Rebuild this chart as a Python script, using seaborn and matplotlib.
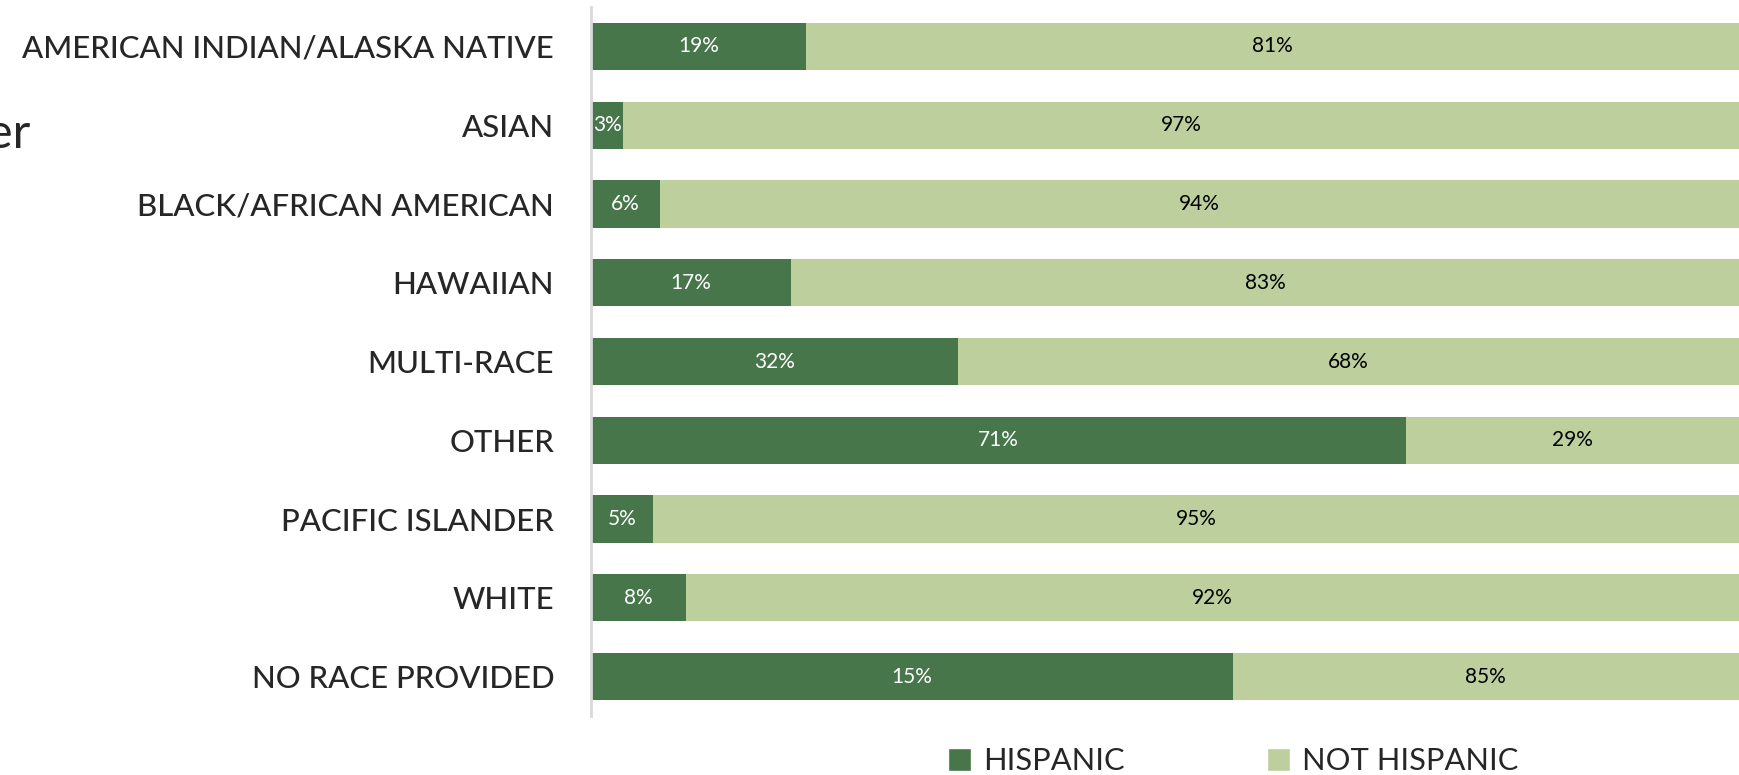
import pandas as pd
import matplotlib.pyplot as plt
import seaborn as sns
from matplotlib.patches import Patch

# Categories (top to bottom)
races = ["AMERICAN INDIAN/ALASKA NATIVE", "ASIAN", "BLACK/AFRICAN AMERICAN", "HAWAIIAN",
         "MULTI-RACE", "OTHER", "PACIFIC ISLANDER", "WHITE", "NO RACE PROVIDED"]
# Hispanic bar length as drawn (% of the row)
hispanic_bar = [18.7, 2.8, 6.0, 17.4, 32.0, 71.0, 5.4, 8.3, 55.9]
# Data labels as printed on the chart
hispanic_labels = ["19%", "3%", "6%", "17%", "32%", "71%", "5%", "8%", "15%"]
not_hispanic_labels = ["81%", "97%", "94%", "83%", "68%", "29%", "95%", "92%", "85%"]

DARK = "#46764A"
LIGHT = "#BECF9E"
W, H = 1739, 775

df = pd.DataFrame({"race": races, "hispanic": hispanic_bar})
df["total"] = 100.0

sns.set_style("white")
plt.rcParams["font.family"] = ["Lato", "DejaVu Sans"]

fig = plt.figure(figsize=(W / 100, H / 100), dpi=100)
ax = fig.add_axes([591 / W, 1 - 716 / H, 1 - 591 / W, (716 - 7) / H])

sns.barplot(data=df, y="race", x="total", color=LIGHT, width=0.6, orient="h",
            saturation=1, linewidth=0, ax=ax, order=races)
sns.barplot(data=df, y="race", x="hispanic", color=DARK, width=0.6, orient="h",
            saturation=1, linewidth=0, ax=ax, order=races)

for i, row in df.iterrows():
    h = row["hispanic"]
    ax.text(h / 2, i, hispanic_labels[i], ha="center", va="center", color="white", fontsize=15)
    ax.text(h + (100 - h) / 2, i, not_hispanic_labels[i], ha="center", va="center",
            color="black", fontsize=15)

ax.set_xlim(0, 100)
ax.set_ylim(len(races) - 0.5, -0.5)
ax.set_xlabel("")
ax.set_ylabel("")
ax.set_xticks([])
ax.set_yticks(range(len(races)))
ax.set_yticklabels(races, fontsize=22.4, fontweight="medium")
ax.set_yticks([i - 0.5 for i in range(len(races) + 1)], minor=True)
ax.tick_params(axis="y", which="major", length=0, pad=26.5)
ax.tick_params(axis="y", which="minor", length=12, width=2, color="#D9D9D9")
for s in ["top", "right", "bottom"]:
    ax.spines[s].set_visible(False)
ax.spines["left"].set_color("#D9D9D9")
ax.spines["left"].set_linewidth(2)

# cut-off title fragment at the far left of the slide
fig.text(30 / W, 1 - 134 / H, "er", ha="right", va="center", fontsize=35)

handles = [Patch(facecolor=DARK, label="HISPANIC"), Patch(facecolor=LIGHT, label="NOT HISPANIC")]
fig.legend(handles=handles, loc="center", bbox_to_anchor=(1233 / W, 14 / H), ncol=2,
           frameon=False, fontsize=22.2, handlelength=0.75, handleheight=0.75,
           handletextpad=0.4, columnspacing=4.6)

fig.savefig("out.png", dpi=100)
